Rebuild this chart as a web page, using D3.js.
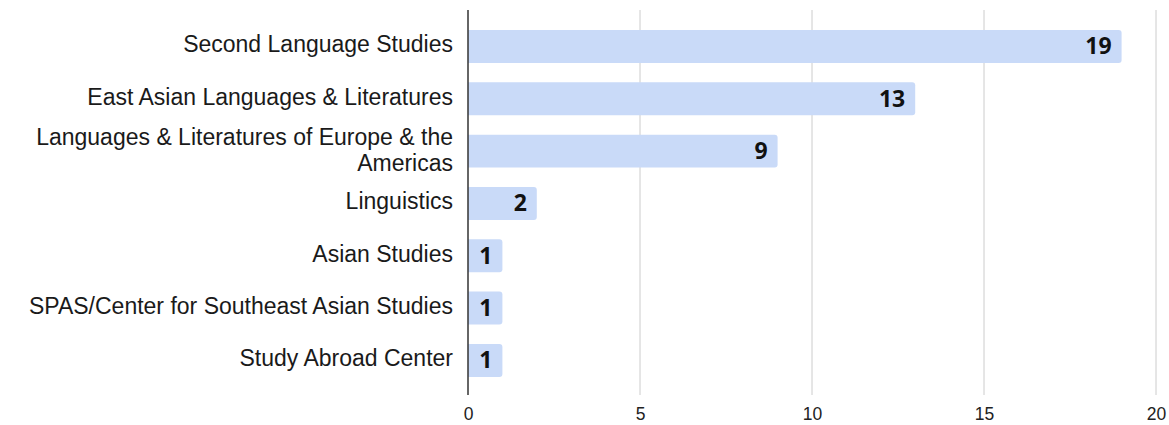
<!DOCTYPE html>
<html>
<head>
<meta charset="utf-8">
<script src="https://cdn.jsdelivr.net/npm/d3@7"></script>
<style>
  body { margin: 0; background: #fff; }
  .cat-label { font-family: "Liberation Sans", Arial, sans-serif; font-size: 23px; fill: #1a1a1a; }
  .val-label { font-family: "Open Sans", "Noto Sans", sans-serif; font-size: 23px; font-weight: bold; fill: #111; }
  .x-axis text { font-family: "Liberation Sans", Arial, sans-serif; font-size: 17.5px; fill: #222; }
</style>
</head>
<body>
<div id="container"></div>
<script>
var categories = ["Second Language Studies",
                  "East Asian Languages & Literatures",
                  "Languages & Literatures of Europe & the Americas",
                  "Linguistics",
                  "Asian Studies",
                  "SPAS/Center for Southeast Asian Studies",
                  "Study Abroad Center"];
var counts = [19, 13, 9, 2, 1, 1, 1];
var xTicks = [0, 5, 10, 15, 20];

// long labels get split like the original
var labelLines = {
  "Languages & Literatures of Europe & the Americas": ["Languages & Literatures of Europe & the", "Americas"]
};

var width = 1169, height = 425;
var chart = d3.select("#container").
append("svg").
attr("width", width).
attr("height", height);

var x = d3.scaleLinear().domain([0, 20]).range([468, 1156]);
var y = d3.scaleBand().domain(categories).range([20.3, 386.6]).paddingInner(0.37).paddingOuter(0.185);

// grid lines
chart.append("g").
selectAll("line").
data(xTicks.slice(1)).
enter().
append("line").
attr("x1", function (d) {return x(d);}).
attr("x2", function (d) {return x(d);}).
attr("y1", 10).
attr("y2", 395).
attr("stroke", "#cccccc").
attr("stroke-width", 1);

// bars, rounded on the right end only
var r = 3;
chart.append("g").
selectAll("path").
data(categories).
enter().
append("path").
attr("fill", "#c9daf8").
attr("d", function (d, i) {
  var x0 = x(0), x1 = x(counts[i]), y0 = y(d), h = y.bandwidth();
  return "M" + x0 + "," + y0 +
  "H" + (x1 - r) + "Q" + x1 + "," + y0 + " " + x1 + "," + (y0 + r) +
  "V" + (y0 + h - r) + "Q" + x1 + "," + (y0 + h) + " " + (x1 - r) + "," + (y0 + h) +
  "H" + x0 + "Z";
});

// value labels inside bars
chart.append("g").
selectAll("text").
data(categories).
enter().
append("text").
attr("class", "val-label").
attr("x", function (d, i) {return x(counts[i]) - 10;}).
attr("y", function (d) {return y(d) + y.bandwidth() / 2 + 8;}).
attr("text-anchor", "end").
text(function (d, i) {return counts[i];});

// category labels
var catG = chart.append("g");
var lineGap = 26;
categories.forEach(function (c) {
  var lines = labelLines[c] || [c];
  var n = lines.length - 1;
  var base = y(c) + y.bandwidth() / 2 + 6 + n - n * lineGap / 2;
  lines.forEach(function (l, j) {
    catG.append("text").
    attr("class", "cat-label").
    attr("text-anchor", "end").
    attr("x", 453).
    attr("y", base + j * lineGap).
    text(l);
  });
});

// vertical axis line
chart.append("line").
attr("x1", x(0)).
attr("x2", x(0)).
attr("y1", 10).
attr("y2", 395).
attr("stroke", "#333").
attr("stroke-width", 1.5);

// x axis labels
var xAxis = d3.axisBottom(x).tickValues(xTicks).tickSize(0).tickPadding(0);
var axG = chart.append("g").
attr("class", "x-axis").
attr("transform", "translate(0, 408)").
call(xAxis);
axG.select(".domain").remove();
</script>
</body>
</html>
